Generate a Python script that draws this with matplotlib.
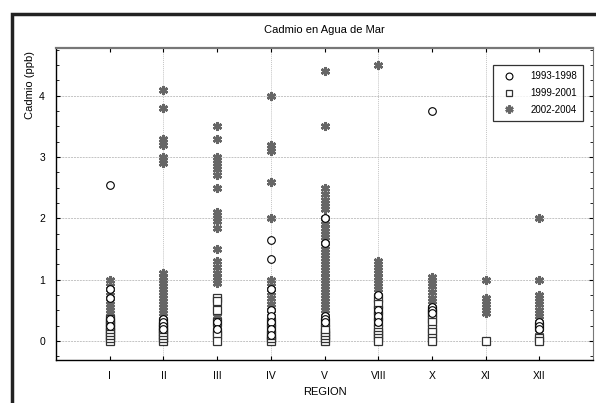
import matplotlib.pyplot as plt
from matplotlib.patches import Rectangle

plt.rcParams['font.family'] = ['Liberation Sans', 'DejaVu Sans']

regiones = ['I', 'II', 'III', 'IV', 'V', 'VIII', 'X', 'XI', 'XII']

# Cd values (ppb) per region
p_1993_1998 = [
    [2.55, 0.85, 0.7, 0.35, 0.25],
    [0.35, 0.3, 0.25, 0.2],
    [0.3, 0.2],
    [1.65, 1.33, 0.85, 0.5, 0.4, 0.3, 0.2, 0.1],
    [2.0, 1.6, 0.4, 0.35, 0.3],
    [0.75, 0.5, 0.4, 0.3],
    [3.75, 0.55, 0.5, 0.45],
    [],
    [0.3, 0.25, 0.2],
]
p_1999_2001 = [
    [0.0, 0.05, 0.1, 0.15, 0.2, 0.25, 0.3, 0.35],
    [0.0, 0.05, 0.1, 0.15, 0.2, 0.25, 0.3],
    [0.7, 0.65, 0.5, 0.3, 0.15, 0.1, 0.0],
    [0.0, 0.05, 0.1, 0.2, 0.3],
    [0.0, 0.05, 0.1, 0.15, 0.2, 0.3],
    [0.7, 0.6, 0.5, 0.4, 0.3, 0.2, 0.15, 0.1, 0.05, 0.0],
    [0.5, 0.45, 0.35, 0.3, 0.2, 0.15, 0.05, 0.0],
    [0.0],
    [0.25, 0.05, 0.0],
]
p_2002_2004 = [
    [1.0, 0.9, 0.8, 0.7, 0.65, 0.6, 0.55, 0.5, 0.45, 0.4],
    [4.1, 3.8, 3.3, 3.25, 3.2, 3.0, 2.95, 2.9, 1.1, 1.05, 1.0, 0.95, 0.9,
     0.85, 0.8, 0.75, 0.7, 0.65, 0.6, 0.55, 0.5, 0.45, 0.4, 0.3, 0.2, 0.1, 0.05],
    [3.5, 3.3, 3.0, 2.95, 2.9, 2.85, 2.8, 2.7, 2.5, 2.1, 2.05, 2.0, 1.95,
     1.85, 1.5, 1.3, 1.2, 1.1, 1.05, 1.0, 0.95, 0.6, 0.55, 0.5, 0.45, 0.4,
     0.35, 0.3, 0.25, 0.2],
    [4.0, 3.2, 3.15, 3.1, 2.6, 2.0, 1.0, 0.9, 0.8, 0.7, 0.6, 0.55, 0.5,
     0.45, 0.4, 0.3, 0.2, 0.1, 0.05, 0.0],
    [4.4, 3.5, 2.5, 2.4, 2.3, 2.25, 2.2, 2.15, 2.0, 1.95, 1.9, 1.85, 1.8,
     1.75, 1.7, 1.65, 1.6, 1.55, 1.5, 1.45, 1.4, 1.35, 1.3, 1.25, 1.2, 1.15,
     1.1, 1.05, 1.0, 0.95, 0.9, 0.85, 0.8, 0.75, 0.7, 0.65, 0.6, 0.55, 0.5,
     0.45, 0.4, 0.3, 0.2, 0.1, 0.05, 0.0],
    [4.5, 1.3, 1.25, 1.2, 1.15, 1.1, 1.05, 1.0, 0.95, 0.9, 0.85, 0.8],
    [1.05, 1.0, 0.95, 0.9, 0.8, 0.7, 0.65, 0.6, 0.5, 0.1, 0.05, 0.0],
    [1.0, 0.7, 0.65, 0.6, 0.55, 0.5, 0.45],
    [2.0, 1.0, 0.75, 0.7, 0.65, 0.6, 0.5, 0.45, 0.4, 0.35, 0.15, 0.1, 0.05, 0.0],
]

fig = plt.figure(figsize=(5.96, 4.03), dpi=100)
ax = fig.add_axes([0.094, 0.107, 0.901, 0.774])


def puntos(serie):
    xs, ys = [], []
    for i, vals in enumerate(serie):
        xs += [i + 1] * len(vals)
        ys += vals
    return xs, ys


x, y = puntos(p_2002_2004)
ax.plot(x, y, ls='none', marker=(6, 2, 0), ms=6.5, mew=1.8, color='#666666',
        label='2002-2004', zorder=3)
x, y = puntos(p_1999_2001)
ax.plot(x, y, ls='none', marker='s', ms=5.5, mfc='white', mec='#333333',
        mew=0.9, label='1999-2001', zorder=4)
x, y = puntos(p_1993_1998)
ax.plot(x, y, ls='none', marker='o', ms=5.5, mfc='white', mec='black',
        mew=0.8, label='1993-1998', zorder=5)

ax.set_xlim(0, 10)
ax.set_ylim(-0.31, 4.78)
ax.set_xticks(range(1, 10))
ax.set_xticklabels(regiones)
ax.set_yticks([0, 1, 2, 3, 4])
ax.set_yticks([v / 4 for v in range(-1, 20)], minor=True)
ax.tick_params(direction='in', top=True, right=True, labelsize=7.5,
               length=3, pad=8)
ax.tick_params(which='minor', direction='in', right=True, length=2)

for v in [0, 1, 2, 3, 4]:
    ax.axhline(v, color='#c4c4c4', ls=(0, (2, 1)), lw=0.7, zorder=1)
for v in [2, 4, 6, 8]:
    ax.axvline(v, color='#c4c4c4', ls=(0, (1, 1)), lw=0.7, zorder=1)

ax.spines['top'].set_color('#777777')
ax.spines['top'].set_linewidth(1.6)
ax.spines['right'].set_color('#777777')
ax.spines['left'].set_linewidth(1.0)
ax.spines['bottom'].set_linewidth(1.0)

handles, labels = ax.get_legend_handles_labels()
leg = ax.legend(handles[::-1], labels[::-1], loc='upper right',
                bbox_to_anchor=(0.99, 0.96), fontsize=7, frameon=True,
                fancybox=False, edgecolor='black', handletextpad=1.2,
                borderpad=0.6, labelspacing=0.7, markerscale=0.9)
leg.get_frame().set_linewidth(0.9)

fig.text(0.545, 0.925, 'Cadmio en Agua de Mar', ha='center', va='center',
         fontsize=8)
fig.text(0.05, 0.79, 'Cadmio (ppb)', rotation=90, ha='center', va='center',
         fontsize=8)
fig.text(0.545, 0.027, 'REGION', ha='center', va='center', fontsize=8)

fig.patches.append(Rectangle((12 / 596, -0.1), 1.2, 1 - 14 / 403 + 0.1,
                             transform=fig.transFigure, fill=False,
                             lw=2.5, ec='#222222'))

plt.savefig('out.png', dpi=100)
